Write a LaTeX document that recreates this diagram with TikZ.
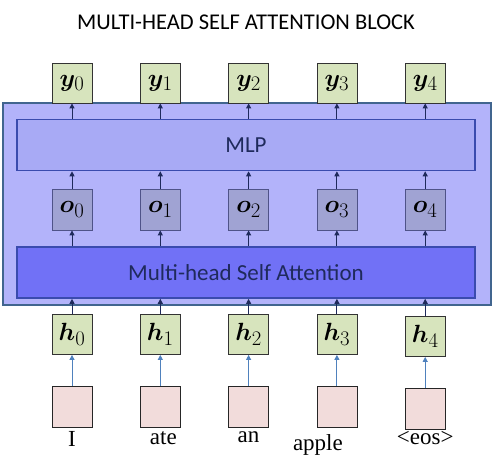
\documentclass[tikz,border=0pt]{standalone}
\usepackage{fontspec}
\usepackage{bm}
\setmainfont{Liberation Serif}
\newfontfamily\labelfont{Carlito}
\usepackage{tikz}
\usetikzlibrary{positioning, arrows.meta}
\definecolor{outerfill}{HTML}{B3B3FA}
\definecolor{outerline}{HTML}{41658F}
\definecolor{mlpfill}{HTML}{A8AAF5}
\definecolor{layerline}{HTML}{3A4BAE}
\definecolor{attfill}{HTML}{7171F6}
\definecolor{ofill}{HTML}{A0A3D3}
\definecolor{oline}{HTML}{4F5388}
\definecolor{vecfill}{HTML}{D7E4BD}
\definecolor{tokfill}{HTML}{F2DCDB}
\definecolor{embarrow}{HTML}{4F81BD}
\definecolor{navy}{HTML}{1F2A5C}
\tikzset{
  block/.style={draw=outerline, line width=1.2pt, fill=outerfill,
                minimum width=488pt, minimum height=202pt, inner sep=0pt},
  layer/.style={draw=layerline, line width=1.6pt, minimum width=458pt,
                minimum height=51pt, inner sep=0pt, font=\labelfont\fontsize{23}{25}\selectfont,
                text=navy},
  vec/.style={draw=black!80, line width=0.8pt, fill=vecfill, minimum width=40pt,
              minimum height=40pt, inner sep=0pt, font=\Huge},
  outvec/.style={draw=oline, line width=0.8pt, fill=ofill, minimum width=40pt,
                 minimum height=41pt, inner sep=0pt, font=\Huge},
  tok/.style={draw=black!85, line width=0.8pt, fill=tokfill, minimum width=40pt,
              minimum height=41pt, inner sep=0pt},
  word/.style={font=\fontsize{23}{25}\selectfont, inner sep=0pt},
  ar/.style={-{Triangle[length=5pt, width=5pt]}, line width=1pt, navy},
  arb/.style={-{Triangle[length=5pt, width=5pt]}, line width=1pt, embarrow},
}
\begin{document}
\begin{tikzpicture}[x=1pt, y=-1pt, node distance=10pt and 47.5pt]
  \useasboundingbox (0,0) rectangle (495,465);
  \node[font=\labelfont\fontsize{22.5}{24}\selectfont] (title) at (246,22) {MULTI-HEAD SELF ATTENTION BLOCK};

  \node[block] (blk) at (247,204) {};
  \node[layer, fill=mlpfill] (mlp) at (246,145) {MLP};
  \node[layer, fill=attfill] (mhsa) at (246,272.5) {Multi-head Self Attention};

  % outputs
  \node[vec] (y0) at (72,83) {$\bm{y}_0$};
  \node[vec, right=of y0] (y1) {$\bm{y}_1$};
  \node[vec, right=of y1] (y2) {$\bm{y}_2$};
  \node[vec, right=of y2] (y3) {$\bm{y}_3$};
  \node[vec, right=of y3] (y4) {$\bm{y}_4$};

  % attention outputs
  \node[outvec] (o0) at (72,209.5) {$\bm{o}_0$};
  \node[outvec, right=of o0] (o1) {$\bm{o}_1$};
  \node[outvec, right=of o1] (o2) {$\bm{o}_2$};
  \node[outvec, right=of o2] (o3) {$\bm{o}_3$};
  \node[outvec, right=of o3] (o4) {$\bm{o}_4$};

  % inputs
  \node[vec] (h0) at (72,334.5) {$\bm{h}_0$};
  \node[vec, right=of h0] (h1) {$\bm{h}_1$};
  \node[vec, right=of h1] (h2) {$\bm{h}_2$};
  \node[vec, right=of h2] (h3) {$\bm{h}_3$};
  \node[vec, right=of h3, yshift=-2pt] (h4) {$\bm{h}_4$};

  % tokens
  \node[tok] (t0) at (72,406.5) {};
  \node[tok, right=of t0] (t1) {};
  \node[tok, right=of t1] (t2) {};
  \node[tok, right=of t2] (t3) {};
  \node[tok, right=of t3, yshift=-2pt] (t4) {};

  \node[word, below=4pt of t0] (w0) {I};
  \node[word, below=4pt of t1, xshift=3pt] (w1) {ate};
  \node[word, below=4pt of t2] (w2) {an};
  \node[word, below=7pt of t3, xshift=-19pt] (w3) {apple};
  \node[word, below=2pt of t4] (w4) {<eos>};

  % token -> h
  \draw[arb] (t0) -- (h0);
  \draw[arb] (t1) -- (h1);
  \draw[arb] (t2) -- (h2);
  \draw[arb] (t3) -- (h3);
  \draw[arb] (t4) -- (h4);
  % h -> attention
  \draw[ar] (h0.north) -- (h0 |- mhsa.south);
  \draw[ar] (h1.north) -- (h1 |- mhsa.south);
  \draw[ar] (h2.north) -- (h2 |- mhsa.south);
  \draw[ar] (h3.north) -- (h3 |- mhsa.south);
  \draw[ar] (h4.north) -- (h4 |- mhsa.south);
  % attention -> o
  \draw[ar] (o0 |- mhsa.north) -- (o0.south);
  \draw[ar] (o1 |- mhsa.north) -- (o1.south);
  \draw[ar] (o2 |- mhsa.north) -- (o2.south);
  \draw[ar] (o3 |- mhsa.north) -- (o3.south);
  \draw[ar] (o4 |- mhsa.north) -- (o4.south);
  % o -> mlp
  \draw[ar] (o0.north) -- (o0 |- mlp.south);
  \draw[ar] (o1.north) -- (o1 |- mlp.south);
  \draw[ar] (o2.north) -- (o2 |- mlp.south);
  \draw[ar] (o3.north) -- (o3 |- mlp.south);
  \draw[ar] (o4.north) -- (o4 |- mlp.south);
  % mlp -> y
  \draw[ar] (y0 |- mlp.north) -- (y0.south);
  \draw[ar] (y1 |- mlp.north) -- (y1.south);
  \draw[ar] (y2 |- mlp.north) -- (y2.south);
  \draw[ar] (y3 |- mlp.north) -- (y3.south);
  \draw[ar] (y4 |- mlp.north) -- (y4.south);
\end{tikzpicture}
\end{document}
